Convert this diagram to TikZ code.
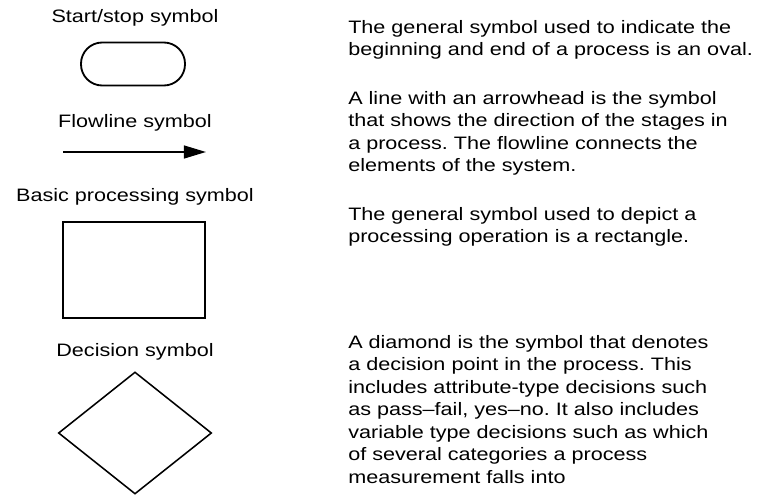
\documentclass[tikz,border=0pt]{standalone}
\usepackage{fontspec}
\setmainfont{Liberation Sans}[FakeStretch=1.2]
\usetikzlibrary{shapes.geometric,arrows.meta}
\frenchspacing

\begin{document}
\begin{tikzpicture}[x=0.025cm, y=-0.025cm,
  lbl/.style={font=\fontsize{12.8}{16}\selectfont, inner sep=0pt},
  txt/.style={font=\fontsize{12.8}{16}\selectfont, inner sep=0pt, align=left, anchor=north west},
  ovalbox/.style={draw, line width=1.3pt, rectangle, rounded corners=0.53cm,
    minimum width=2.6cm, minimum height=1.075cm},
  procbox/.style={draw, line width=1.3pt, rectangle,
    minimum width=3.55cm, minimum height=2.4cm},
  decbox/.style={draw, line width=1.1pt, diamond,
    minimum width=3.83cm, minimum height=3.05cm},
  arr/.style={-{Triangle[length=0.55cm, width=0.32cm]}, line width=1.3pt}
]
\useasboundingbox (0,0) rectangle (763,494);

% symbols on the left
\node[lbl] (startlbl) at (135, 18) {Start/stop symbol};
\node[ovalbox] (oval) at (133, 64) {};

\node[lbl] (flowlbl) at (135,123) {Flowline symbol};
\coordinate (flowA) at (63,152);
\coordinate (flowB) at (206,152);
\draw[arr] (flowA) -- (flowB);

\node[lbl] (proclbl) at (135,197) {Basic processing symbol};
\node[procbox] (proc) at (134,270) {};

\node[lbl] (declbl) at (135,352) {Decision symbol};
\node[decbox] (dec) at (135,433) {};

% descriptions on the right
\node[txt] (ovaltxt) at (348, 20) {The general symbol used to indicate the\\
  beginning and end of a process is an oval.};
\node[txt] (flowtxt) at (348, 91) {A line with an arrowhead is the symbol\\
  that shows the direction of the stages in\\
  a process. The flowline connects the\\
  elements of the system.};
\node[txt] (proctxt) at (348,207) {The general symbol used to depict a\\
  processing operation is a rectangle.};
\node[txt] (dectxt) at (348,335) {A diamond is the symbol that denotes\\
  a decision point in the process. This\\
  includes attribute-type decisions such\\
  as pass--fail, yes--no. It also includes\\
  variable type decisions such as which\\
  of several categories a process\\
  measurement falls into};
\end{tikzpicture}
\end{document}
